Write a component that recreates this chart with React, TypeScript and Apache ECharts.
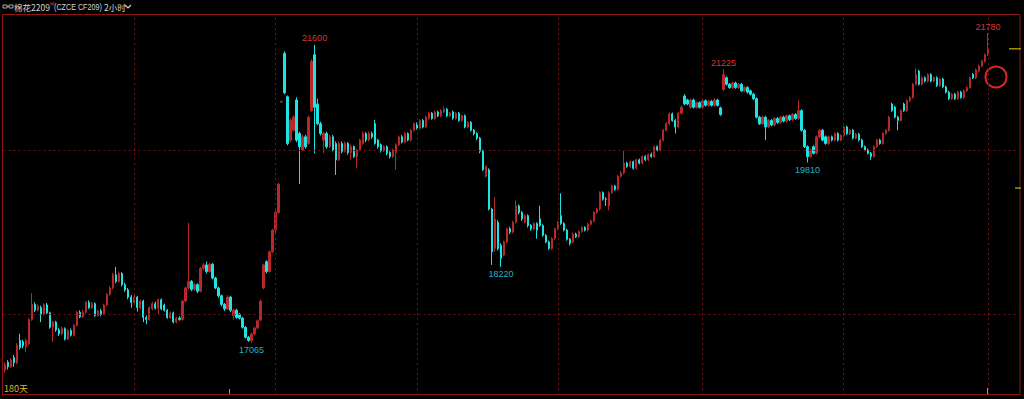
import React, { useEffect, useRef } from "react";
import * as echarts from "echarts";

// Each bar: [open, close, low, high]
const seg1 = [
  [16650, 16730, 16610, 16770], [16770, 16700, 16660, 16800], [16700, 16800, 16680, 16830], [16840, 16760, 16700, 16880],
  [16760, 17030, 16740, 17060], [17100, 16990, 16960, 17200], [17080, 17020, 16980, 17110], [17000, 17100, 16920, 17130],
  [17050, 17420, 17030, 17440], [17420, 17650, 17400, 17820], [17650, 17560, 17530, 17680], [17560, 17620, 17540, 17650],
  [17600, 17500, 17380, 17630], [17500, 17640, 17480, 17660], [17640, 17520, 17500, 17670], [17520, 17300, 17280, 17540],
  [17300, 17380, 17080, 17400], [17380, 17260, 17230, 17400], [17260, 17200, 17170, 17290], [17200, 17280, 17180, 17310],
  [17280, 17120, 17100, 17300], [17120, 17250, 17110, 17270], [17250, 17180, 17160, 17280], [17180, 17330, 17160, 17350],
  [17330, 17530, 17310, 17550], [17530, 17460, 17440, 17560], [17460, 17530, 17440, 17560], [17530, 17680, 17510, 17700],
  [17680, 17600, 17580, 17710], [17600, 17660, 17580, 17690], [17660, 17480, 17460, 17680], [17480, 17550, 17460, 17570],
  [17550, 17500, 17470, 17580], [17500, 17640, 17490, 17660], [17640, 17800, 17620, 17820], [17800, 17900, 17780, 17930],
  [17900, 18100, 17880, 18130], [18100, 18000, 17970, 18220], [18000, 18120, 17980, 18150], [18120, 17950, 17920, 18140],
  [17950, 17870, 17840, 17980], [17870, 17760, 17730, 17900], [17760, 17680, 17600, 17790],
];
const seg2 = [
  [17680, 17760, 17660, 17820], [17760, 17600, 17540, 17780], [17600, 17700, 17580, 17720], [17700, 17450, 17380, 17720],
  [17450, 17420, 17350, 17480], [17420, 17600, 17400, 17620], [17580, 17660, 17560, 17690], [17660, 17590, 17570, 17690],
  [17590, 17720, 17500, 17740], [17720, 17580, 17560, 17740], [17640, 17560, 17540, 17660], [17560, 17450, 17430, 17580],
  [17450, 17520, 17430, 17540], [17520, 17380, 17360, 17540], [17380, 17440, 17360, 17460], [17440, 17420, 17400, 17470],
  [17420, 17700, 17400, 17720], [17700, 17900, 17680, 17920], [17900, 18000, 17880, 18890], [18000, 17880, 17850, 18020],
  [17880, 17950, 17860, 17980], [17950, 17850, 17820, 17970], [17850, 18200, 17830, 18220], [18200, 18250, 18170, 18280],
  [18250, 18150, 18120, 18300], [18150, 18260, 18130, 18280], [18260, 18050, 18030, 18280], [18050, 17900, 17880, 18070],
  [17900, 17780, 17750, 17920], [17780, 17650, 17620, 17800], [17650, 17580, 17550, 17670], [17580, 17760, 17560, 17790],
  [17760, 17560, 17530, 17780], [17480, 17560, 17420, 17580], [17560, 17450, 17430, 17580], [17500, 17440, 17420, 17520],
  [17440, 17300, 17280, 17460], [17300, 17150, 17130, 17320], [17150, 17100, 17080, 17170], [17100, 17200, 17065, 17220],
  [17200, 17290, 17180, 17310], [17290, 17400, 17270, 17420], [17410, 17700, 17390, 17720], [17900, 18250, 17880, 18270],
  [18300, 18150, 18120, 18320], [18150, 18450, 18130, 18470], [18450, 18780, 18430, 18800],
];
const seg3 = [
  [18780, 19050, 18700, 19080], [19050, 19480, 19030, 19500], [20730, 20740, 20720, 20750], [21470, 20870, 20850, 21500],
  [20810, 20100, 20070, 20830], [20150, 20450, 20120, 20480], [20300, 20500, 20280, 20530], [20760, 20150, 20120, 20800],
  [20250, 20050, 19480, 20280], [20000, 20200, 19980, 20230], [20200, 20050, 20020, 20230], [20100, 20500, 20080, 20520],
  [20600, 21350, 20580, 21380], [21450, 20650, 19950, 21600], [20700, 20400, 20380, 20780], [20400, 20250, 20220, 20430],
  [20150, 20250, 19950, 20280], [20250, 20050, 20020, 20280], [20050, 20200, 20030, 20230], [20200, 20000, 19980, 20230],
  [20100, 19850, 19620, 20130], [19850, 20100, 19830, 20130], [20100, 19980, 19950, 20130], [19980, 20100, 19960, 20130],
  [20100, 19960, 19930, 20120], [19960, 20050, 19850, 20080], [20050, 19900, 19880, 20070], [19900, 20000, 19720, 20020],
  [20000, 20150, 19980, 20170], [20100, 20250, 20080, 20280], [20250, 20150, 20120, 20270], [20150, 20250, 20130, 20280],
  [20250, 20200, 20170, 20280], [20400, 20100, 20080, 20456], [20150, 20050, 20020, 20170], [20080, 19990, 19960, 20100],
  [19990, 20050, 19970, 20070], [20050, 19950, 19920, 20070], [19960, 19900, 19870, 19980], [19900, 20000, 19880, 20020],
  [19960, 20080, 19700, 20100], [20080, 20200, 20060, 20220], [20200, 20120, 20100, 20230], [20120, 20250, 20100, 20270],
  [20250, 20150, 20130, 20270], [20150, 20300, 20130, 20320], [20300, 20400, 20280, 20420],
];
const seg4 = [
  [20400, 20330, 20310, 20420], [20330, 20450, 20310, 20470], [20450, 20350, 20330, 20470], [20350, 20500, 20330, 20520],
  [20480, 20560, 20460, 20580], [20560, 20480, 20460, 20580], [20480, 20580, 20460, 20600], [20580, 20520, 20500, 20600],
  [20520, 20600, 20500, 20620], [20580, 20620, 20560, 20660], [20620, 20520, 20500, 20640], [20520, 20560, 20500, 20580],
  [20580, 20480, 20460, 20600], [20480, 20560, 20460, 20580], [20560, 20450, 20430, 20580], [20450, 20520, 20430, 20540],
  [20520, 20350, 20330, 20540], [20350, 20420, 20330, 20440], [20420, 20300, 20280, 20440], [20300, 20250, 20220, 20320],
  [20250, 20180, 20150, 20270], [20180, 19980, 19950, 20200], [19980, 19700, 19680, 20000], [19600, 19750, 19580, 19770],
  [19700, 19100, 19080, 19720], [19100, 18450, 18250, 19120], [18500, 18950, 18450, 19280], [18900, 18500, 18470, 18930],
  [18550, 18350, 18220, 18580], [18400, 18600, 18380, 18620], [18600, 18800, 18580, 18820], [18800, 18750, 18720, 18830],
  [18750, 18900, 18730, 18920], [18900, 19150, 18880, 19230], [19150, 19050, 19020, 19170], [19050, 18950, 18920, 19070],
  [18900, 19000, 18880, 19020], [19000, 18850, 18820, 19020], [18850, 18800, 18770, 18870], [18800, 18880, 18780, 18900],
  [18880, 18780, 18650, 18900], [18950, 18850, 18830, 19150], [18850, 18700, 18680, 18870], [18700, 18600, 18580, 18720],
  [18600, 18500, 18480, 18620], [18500, 18650, 18480, 18670], [18650, 18800, 18630, 18820],
];
const seg5 = [
  [18800, 18900, 18780, 18920], [19000, 18880, 18860, 19340], [18880, 18780, 18760, 18900], [18780, 18640, 18620, 18800],
  [18640, 18580, 18550, 18660], [18600, 18720, 18580, 18740], [18720, 18680, 18660, 18740], [18680, 18760, 18660, 18780],
  [18760, 18820, 18740, 18840], [18820, 18780, 18760, 18840], [18780, 18870, 18760, 18890], [18870, 18920, 18850, 18940],
  [18920, 19050, 18900, 19070], [19050, 19100, 19030, 19120], [19100, 19350, 19080, 19370], [19350, 19250, 19230, 19370],
  [19250, 19250, 19150, 19280], [19150, 19350, 19080, 19370], [19350, 19450, 19330, 19470], [19450, 19400, 19380, 19470],
  [19400, 19600, 19380, 19620], [19600, 19650, 19580, 19680], [19650, 19800, 19630, 19990], [19800, 19750, 19730, 19820],
  [19750, 19820, 19730, 19840], [19820, 19720, 19700, 19840], [19720, 19850, 19700, 19870], [19850, 19800, 19780, 19870],
  [19800, 19900, 19780, 19920], [19900, 19850, 19830, 19920], [19850, 19930, 19830, 19950], [19930, 19900, 19880, 19960],
  [19900, 20050, 19880, 20070], [20050, 20000, 19980, 20070], [20000, 20150, 19980, 20170], [20150, 20300, 20130, 20320],
  [20300, 20400, 20280, 20420], [20400, 20550, 20380, 20570], [20550, 20450, 20430, 20570], [20450, 20350, 20250, 20470],
  [20350, 20560, 20330, 20580], [20560, 20650, 20540, 20680], [20820, 20700, 20680, 20850], [20760, 20700, 20680, 20780],
  [20650, 20760, 20630, 20780], [20760, 20650, 20630, 20780], [20650, 20720, 20630, 20740], [20720, 20650, 20630, 20740],
];
const seg6 = [
  [20650, 20750, 20630, 20770], [20750, 20680, 20660, 20770], [20680, 20740, 20660, 20760], [20740, 20680, 20660, 20760],
  [20680, 20760, 20660, 20790], [20760, 20680, 20660, 20780], [20640, 20540, 20520, 20660], [20920, 21150, 20900, 21225],
  [21100, 21000, 20980, 21120], [21000, 20950, 20930, 21020], [20950, 21020, 20930, 21040], [21020, 20950, 20930, 21040],
  [20950, 21000, 20930, 21020], [21000, 20900, 20880, 21020], [20900, 20950, 20880, 20970], [20950, 20880, 20860, 20970],
  [20900, 20850, 20830, 20920], [20850, 20780, 20760, 20870], [20780, 20500, 20480, 20800], [20500, 20400, 20380, 20520],
  [20400, 20500, 20380, 20520], [20500, 20350, 20150, 20520], [20350, 20450, 20330, 20470], [20450, 20380, 20360, 20470],
  [20380, 20480, 20360, 20500], [20480, 20420, 20400, 20500], [20420, 20500, 20400, 20520], [20500, 20440, 20420, 20520],
  [20440, 20520, 20420, 20540], [20520, 20460, 20440, 20540], [20460, 20540, 20440, 20560], [20540, 20480, 20460, 20560],
  [20480, 20600, 20460, 20760], [20600, 20300, 20280, 20620], [20300, 20050, 20030, 20320], [20050, 19900, 19810, 20070],
  [19900, 20000, 19880, 20020], [20050, 19950, 19930, 20070], [19950, 20200, 19930, 20220], [20200, 20300, 20180, 20320],
  [20300, 20150, 20130, 20320], [20200, 20100, 20080, 20220], [20100, 20200, 20080, 20220], [20200, 20150, 20130, 20220],
  [20150, 20250, 20130, 20270], [20250, 20150, 20130, 20270], [20150, 20220, 20130, 20240],
];
const seg7 = [
  [20220, 20350, 20200, 20370], [20350, 20250, 20230, 20370], [20250, 20300, 20230, 20320], [20300, 20180, 20160, 20320],
  [20180, 20240, 20160, 20260], [20240, 20150, 20130, 20260], [20150, 20050, 20030, 20170], [20050, 20000, 19980, 20070],
  [20000, 19950, 19930, 20020], [19950, 19900, 19850, 19970], [19900, 20050, 19880, 20070], [20050, 20150, 20030, 20170],
  [20150, 20100, 20080, 20170], [20100, 20250, 20080, 20270], [20250, 20300, 20230, 20320], [20300, 20500, 20280, 20520],
  [20700, 20600, 20580, 20720], [20650, 20500, 20480, 20670], [20500, 20450, 20300, 20520], [20450, 20600, 20430, 20620],
  [20700, 20600, 20580, 20720], [20600, 20750, 20580, 20770], [20750, 20800, 20730, 20820], [20800, 21000, 20780, 21020],
  [21000, 21150, 20980, 21250], [21200, 21000, 20980, 21220], [21000, 21100, 20980, 21120], [21100, 21050, 21030, 21120],
  [21050, 21150, 21030, 21170], [21150, 21050, 21030, 21170], [21050, 21100, 21030, 21120], [21100, 20980, 20960, 21120],
  [20980, 21080, 20960, 21100], [21080, 20960, 20940, 21100], [20960, 20880, 20860, 20980], [20880, 20780, 20760, 20900],
  [20780, 20850, 20760, 20870], [20850, 20780, 20760, 20870], [20780, 20880, 20760, 20900], [20880, 20800, 20780, 20900],
  [20800, 20900, 20780, 20920], [20900, 20950, 20880, 20970], [20950, 21100, 20930, 21120], [21150, 21100, 21080, 21170],
  [21100, 21220, 21080, 21240], [21200, 21280, 21180, 21300], [21280, 21350, 21260, 21370], [21350, 21450, 21330, 21470],
  [21450, 21540, 21430, 21780],
];

const bars = [...seg1, ...seg2, ...seg3, ...seg4, ...seg5, ...seg6, ...seg7];
const futureSlots = 9;
const categories = Array.from({ length: bars.length + futureSlots }, (_, i) => `K${i + 1}`);
const dividers = [43, 90, 137, 184, 232, 279, 327];
const priceGrid = [17500, 20000];
const extremes = [
  { i: 103, kind: "high" },
  { i: 82, kind: "low" },
  { i: 165, kind: "low" },
  { i: 239, kind: "high" },
  { i: 267, kind: "low" },
  { i: 327, kind: "high" },
];
const lastPrice = 21540;
const refPrice = 19420;
const yMin = 16270;
const yMax = 22070;

const UP = "#b8282a";
const DOWN = "#1fe3e3";
const FRAME = "#8c1515";
const GRID = "#6e1212";
const TITLE = "#d4d4d4";

export default function App() {
  const ref = useRef<HTMLDivElement>(null);
  useEffect(() => {
    if (!ref.current) return;
    const chart = echarts.init(ref.current, null, { renderer: "svg" });
    const slot = 3.006;
    const markPts: any[] = extremes.map((e) => {
      const v = e.kind === "high" ? bars[e.i][3] : bars[e.i][2];
      return {
        coord: [categories[e.i], v],
        value: v,
        symbol: "rect",
        symbolSize: 0,
        label: {
          show: true,
          position: e.kind === "high" ? "top" : "bottom",
          distance: e.kind === "high" ? 2 : 3,
          color: e.kind === "high" ? "#d83434" : "#22b4c4",
          fontSize: 9,
          fontFamily: "Liberation Sans",
          formatter: String(v),
        },
      };
    });
    markPts.push({
      coord: [categories[categories.length - 1], lastPrice],
      symbol: "rect",
      symbolSize: [12, 1.2],
      itemStyle: { color: "#c8b400" },
      label: { show: false },
    });
    markPts.push({
      coord: [categories[categories.length - 1], refPrice],
      symbol: "rect",
      symbolSize: [6, 1.2],
      symbolOffset: [3, 0],
      itemStyle: { color: "#c8b400" },
      label: { show: false },
    });

    chart.setOption({
      animation: false,
      backgroundColor: "#000",
      grid: {
        left: 3.5,
        top: 14,
        width: categories.length * slot,
        bottom: 4,
        containLabel: false,
        outerBoundsMode: "none",
      },
      xAxis: {
        type: "category",
        data: categories,
        boundaryGap: true,
        axisLine: { show: false },
        axisTick: { show: false },
        axisLabel: { show: false },
        splitLine: { show: false },
      },
      yAxis: {
        type: "value",
        min: yMin,
        max: yMax,
        position: "right",
        axisLine: { show: false },
        axisTick: { show: false },
        axisLabel: { show: false },
        splitLine: { show: false },
      },
      series: [
        {
          type: "candlestick",
          data: bars,
          barWidth: 1.8,
          itemStyle: {
            color: UP,
            color0: DOWN,
            borderColor: UP,
            borderColor0: DOWN,
            borderColorDoji: "#b0b0b0",
            borderWidth: 1,
          },
          markLine: {
            silent: true,
            symbol: ["none", "none"],
            label: { show: false },
            lineStyle: { color: GRID, type: [2, 3], width: 1 },
            data: [
              ...dividers.map((d) => ({ xAxis: categories[d] })),
              ...priceGrid.map((p) => ({ yAxis: p })),
            ],
          },
          markPoint: { silent: true, data: markPts },
        },
      ],
      graphic: [
        {
          type: "rect",
          shape: { x: 2.5, y: 14.5, width: 1017.5, height: 380 },
          style: { fill: "none", stroke: FRAME, lineWidth: 1 },
          silent: true,
        },
        { type: "line", shape: { x1: 229.5, y1: 389, x2: 229.5, y2: 394 }, style: { stroke: "#9a9a9a", lineWidth: 1 } },
        { type: "line", shape: { x1: 987.5, y1: 388, x2: 987.5, y2: 394 }, style: { stroke: "#9a9a9a", lineWidth: 1 } },
        { type: "rect", shape: { x: 3, y: 5, width: 4, height: 3 }, style: { fill: "none", stroke: "#a8a8a8", lineWidth: 1 } },
        { type: "rect", shape: { x: 9, y: 5, width: 4, height: 3 }, style: { fill: "none", stroke: "#a8a8a8", lineWidth: 1 } },
        { type: "line", shape: { x1: 7, y1: 6.5, x2: 9, y2: 6.5 }, style: { stroke: "#a8a8a8", lineWidth: 1 } },
        {
          type: "text",
          x: 14,
          y: 7,
          style: { text: "棉花2209", fill: TITLE, font: '8.5px "Noto Sans CJK SC"', verticalAlign: "middle" },
        },
        {
          type: "text",
          x: 50,
          y: 4,
          style: { text: "M", fill: "#e03030", font: '5px "DejaVu Sans"', verticalAlign: "middle" },
        },
        {
          type: "text",
          x: 54,
          y: 7,
          scaleX: 0.8,
          style: { text: "(CZCE CF209)", fill: TITLE, font: '9px "Liberation Sans"', verticalAlign: "middle" },
        },
        {
          type: "text",
          x: 104,
          y: 7,
          style: { text: "2小时", fill: TITLE, font: '8.5px "Noto Sans CJK SC"', verticalAlign: "middle" },
        },
        {
          type: "polyline",
          shape: { points: [[125, 5], [128, 8], [131, 5]] },
          style: { stroke: TITLE, lineWidth: 1.2, fill: "none" },
        },
        {
          type: "text",
          x: 4,
          y: 388,
          style: { text: "180天", fill: "#d4b82a", font: '9px "Noto Sans CJK SC"', verticalAlign: "middle" },
        },
        {
          type: "circle",
          shape: { cx: 996, cy: 77, r: 10.5 },
          style: { fill: "none", stroke: "#e02828", lineWidth: 2 },
        },
      ],
    });
    return () => chart.dispose();
  }, []);
  return (
    <div
      ref={ref}
      style={{ position: "fixed", left: 0, top: 0, width: 1024, height: 399, background: "#000" }}
    />
  );
}
